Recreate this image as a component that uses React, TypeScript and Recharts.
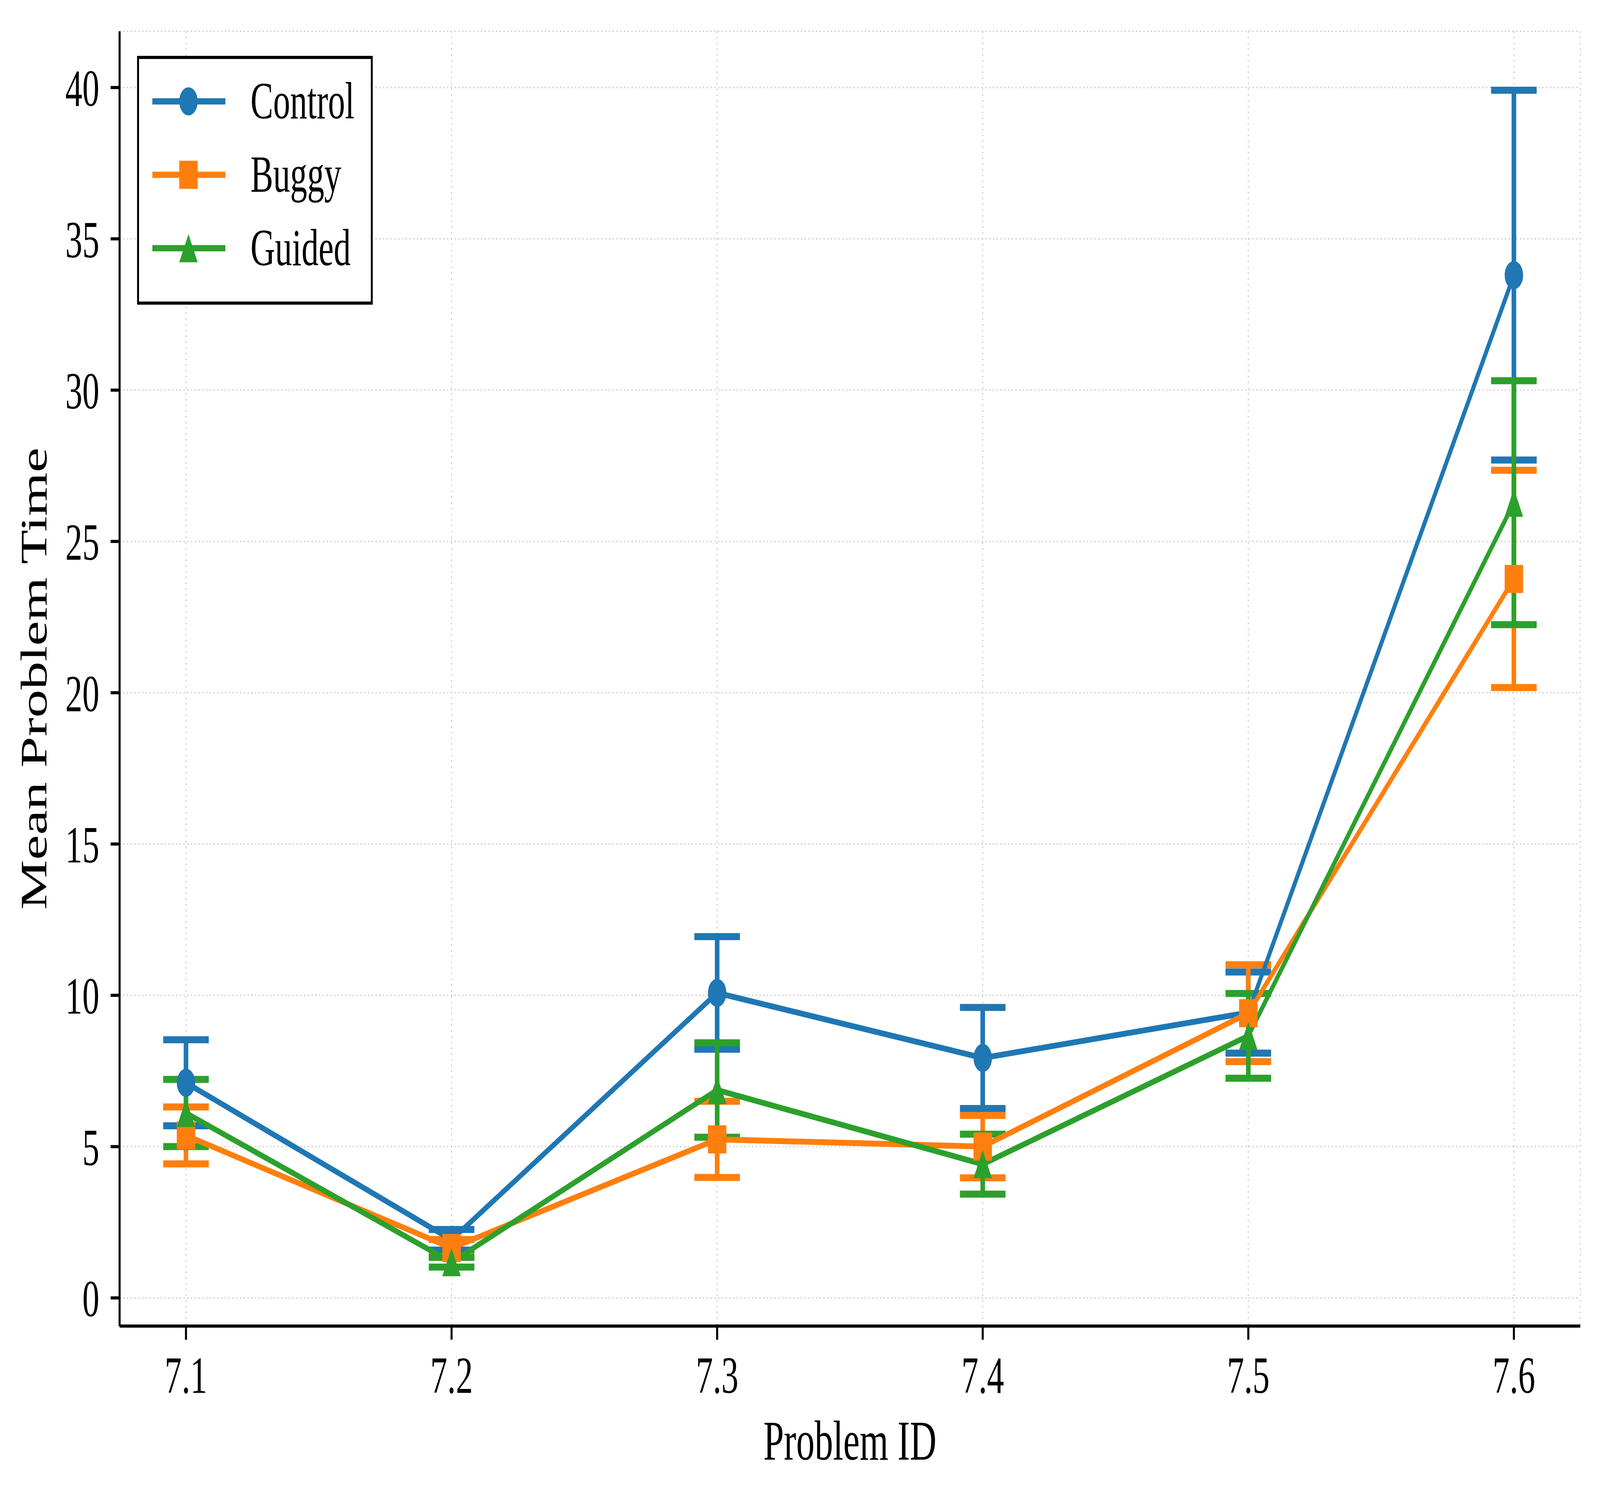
import React from "react";
import { CartesianGrid, ErrorBar, Label, Legend, Line, LineChart, XAxis, YAxis } from "recharts";

const categories = ["7.1", "7.2", "7.3", "7.4", "7.5", "7.6"];
const controlMean = [7.11, 1.92, 10.08, 7.93, 9.43, 33.8];
const controlErr = [1.42, 0.34, 1.86, 1.67, 1.34, 6.11];
const buggyMean = [5.37, 1.65, 5.24, 5.0, 9.41, 23.76];
const buggyErr = [0.94, 0.28, 1.26, 1.03, 1.6, 3.59];
const guidedMean = [6.11, 1.18, 6.87, 4.42, 8.66, 26.28];
const guidedErr = [1.11, 0.16, 1.56, 0.99, 1.4, 4.03];
const yTicks = [0, 5, 10, 15, 20, 25, 30, 35, 40];

const W = 6248;
const H = 3848;
const FONT = "'Liberation Serif', 'Times New Roman', serif";
const MS = 72;

const series = [
  { key: "control", name: "Control", color: "#1f77b4", shape: "circle" },
  { key: "buggy", name: "Buggy", color: "#ff7f0e", shape: "square" },
  { key: "guided", name: "Guided", color: "#2ca02c", shape: "triangle" },
];

const data = categories.map((id, i) => ({
  x: i,
  id,
  control: controlMean[i],
  controlErr: controlErr[i],
  buggy: buggyMean[i],
  buggyErr: buggyErr[i],
  guided: guidedMean[i],
  guidedErr: guidedErr[i],
}));

function Marker({ cx, cy, shape, color }: { cx: number; cy: number; shape: string; color: string }) {
  const h = MS / 2;
  if (shape === "circle") return <circle cx={cx} cy={cy} r={h} fill={color} />;
  if (shape === "square") return <rect x={cx - h} y={cy - h} width={MS} height={MS} fill={color} />;
  return <polygon points={`${cx},${cy - h} ${cx - h},${cy + h} ${cx + h},${cy + h}`} fill={color} />;
}

function LegendBox() {
  return (
    <svg width={921} height={637}>
      <rect x={4} y={4} width={913} height={629} fill="#fff" stroke="#000" strokeWidth={8} />
      {series.map((s, i) => {
        const cy = 116.5 + i * 188;
        return (
          <g key={s.key}>
            <line x1={60} x2={345} y1={cy} y2={cy} stroke={s.color} strokeWidth={16} />
            <Marker cx={201} cy={cy} shape={s.shape} color={s.color} />
            <text x={443} y={cy + 44} fontSize={133} fontFamily={FONT} fill="#000">
              {s.name}
            </text>
          </g>
        );
      })}
    </svg>
  );
}

function YLabel(props: any) {
  const vb = props.viewBox || { x: 0, y: 80, width: 467, height: 3315 };
  const x = vb.x + 182;
  const y = vb.y + vb.height / 2;
  return (
    <text x={x} y={y} transform={`rotate(-90, ${x}, ${y})`} textAnchor="middle" fontSize={144} fontFamily={FONT} fill="#000">
      Mean Problem Time
    </text>
  );
}

const tickStyle = { fontSize: 133, fontFamily: FONT, fill: "#000" };

export default function App() {
  // the browser may clamp the window; squeeze the full-size chart into whatever viewport we get
  const vw = typeof window !== "undefined" ? window.innerWidth : W;
  const vh = typeof window !== "undefined" ? window.innerHeight : H;
  const sx = Math.min(1, vw / W);
  const sy = Math.min(1, vh / H);

  return (
    <div style={{ position: "fixed", left: 0, top: 0, width: "100vw", height: "100vh", overflow: "hidden", background: "#fff" }}>
      <div style={{ width: W, height: H, transform: `scale(${sx}, ${sy})`, transformOrigin: "0 0", background: "#fff" }}>
        <LineChart width={W} height={H} data={data} margin={{ top: 80, right: 77, bottom: 0, left: 0 }}>
          <CartesianGrid stroke="#c8c8c8" strokeWidth={4} strokeDasharray="4 10.7" />
          <XAxis
            type="number"
            dataKey="x"
            domain={[-0.25, 5.25]}
            ticks={[0, 1, 2, 3, 4, 5]}
            tickFormatter={(v: number) => categories[v]}
            height={453}
            tickSize={35}
            tickMargin={42}
            tick={tickStyle}
            axisLine={{ stroke: "#000", strokeWidth: 8 }}
            tickLine={{ stroke: "#000", strokeWidth: 8 }}
            allowDataOverflow
          >
            <Label value="Problem ID" position="insideBottom" offset={111} fontSize={144} fontFamily={FONT} fill="#000" />
          </XAxis>
          <YAxis
            type="number"
            domain={[-0.93, 41.86]}
            ticks={yTicks}
            width={467}
            tickSize={35}
            tickMargin={44}
            tick={tickStyle}
            axisLine={{ stroke: "#000", strokeWidth: 8 }}
            tickLine={{ stroke: "#000", strokeWidth: 8 }}
            allowDataOverflow
          >
            <Label content={<YLabel />} />
          </YAxis>
          {series.map((s) => (
            <Line
              key={s.key + "-err"}
              dataKey={s.key}
              stroke="none"
              strokeWidth={0}
              dot={false}
              activeDot={false}
              legendType="none"
              isAnimationActive={false}
            >
              <ErrorBar dataKey={s.key + "Err"} direction="y" width={89} stroke={s.color} strokeWidth={18} />
            </Line>
          ))}
          {series.map((s) => (
            <Line
              key={s.key}
              dataKey={s.key}
              name={s.name}
              stroke={s.color}
              strokeWidth={15}
              strokeLinejoin="round"
              activeDot={false}
              isAnimationActive={false}
              dot={(p: any) => (
                <Marker key={`${s.key}-${p.index}`} cx={p.cx} cy={p.cy} shape={s.shape} color={s.color} />
              )}
            />
          ))}
          <Legend
            layout="vertical"
            align="center"
            verticalAlign="middle"
            content={() => <LegendBox />}
            wrapperStyle={{ left: 535, top: 143, width: 921, height: 637 }}
          />
        </LineChart>
      </div>
    </div>
  );
}
